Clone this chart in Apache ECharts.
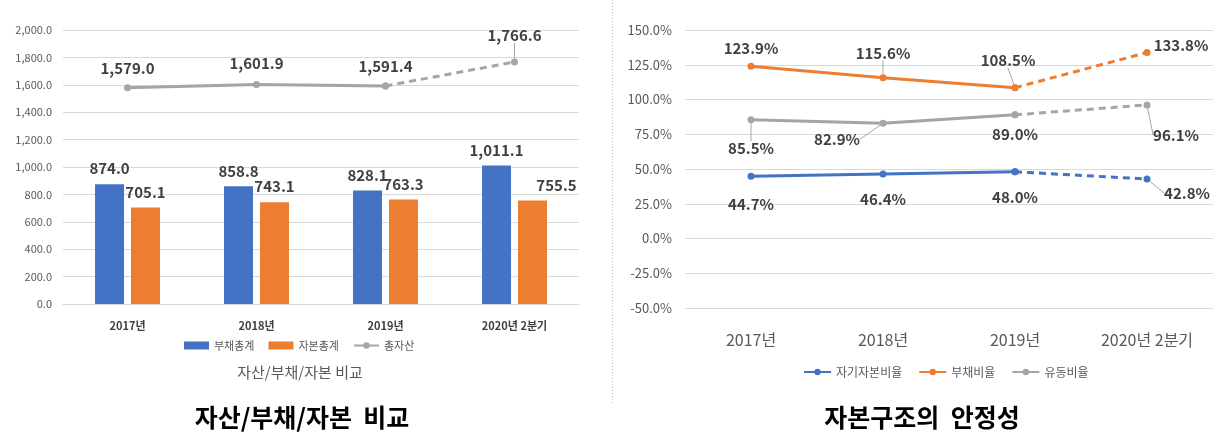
<!DOCTYPE html>
<html><head><meta charset="utf-8">
<script src="https://cdn.jsdelivr.net/npm/echarts@6/dist/echarts.min.js"></script>
<style>html,body{margin:0;padding:0;background:#fff}#c{width:1231px;height:439px}</style>
</head><body><div id="c"></div>
<script>
var categories = ['2017년', '2018년', '2019년', '2020년 2분기'];
var liabilities = [874.0, 858.8, 828.1, 1011.1];
var equity = [705.1, 743.1, 763.3, 755.5];
var totalAssets = [1579.0, 1601.9, 1591.4, 1766.6];
var equityRatio = [44.7, 46.4, 48.0, 42.8];
var debtRatio = [123.9, 115.6, 108.5, 133.8];
var currentRatio = [85.5, 82.9, 89.0, 96.1];
var leftNames = ['부채총계', '자본총계', '총자산'];
var rightNames = ['자기자본비율', '부채비율', '유동비율'];
var innerTitle = '자산/부채/자본 비교';
var mainTitles = ['자산/부채/자본  비교', '자본구조의  안정성'];

var FONT = '"Noto Sans CJK KR", "Noto Sans", sans-serif';
var BLUE = '#4472C4', ORANGE = '#ED7D31', GRAY = '#A5A5A5';
var LBL = '#404040';

function fmt(v) {
  return v.toLocaleString('en-US', {minimumFractionDigits: 1, maximumFractionDigits: 1});
}
function solidPart(arr) { return arr.map(function (v, i) { return i <= 2 ? v : null; }); }
function dashPart(arr) { return arr.map(function (v, i) { return i >= 2 ? v : null; }); }

var chart = echarts.init(document.getElementById('c'));

// offsets: [dx, dy, leader] label centre relative to the point
function makeLineSeries(name, arr, color, gridIdx, offsets, fmtFn) {
  var res = [];
  ['solid', 'dashed'].forEach(function (kind) {
    var d = kind === 'solid' ? solidPart(arr) : dashPart(arr);
    var data = d.map(function (v, i) {
      if (v === null) return null;
      var showLbl = kind === 'solid' ? (i <= 2) : (i === 3);
      var o = offsets[i];
      return {value: v, label: {show: showLbl, position: 'inside'},
        labelLine: {show: !!o[2] && showLbl}};
    });
    res.push({
      type: 'line', name: name,
      xAxisIndex: gridIdx, yAxisIndex: gridIdx,
      data: data,
      symbol: 'circle', symbolSize: 7,
      connectNulls: false,
      z: 5,
      itemStyle: {color: color},
      lineStyle: {color: color, width: 3, type: kind === 'solid' ? 'solid' : [7, 5]},
      label: {show: true, fontFamily: FONT, fontWeight: 'bold', fontSize: 15, color: LBL,
        formatter: function (p) { return fmtFn(p.value); }},
      labelLine: {show: true, lineStyle: {color: '#A6A6A6', width: 1}},
      labelLayout: function (p) {
        var o = offsets[p.dataIndex];
        return {dx: o[0], dy: o[1]};
      },
      emphasis: {disabled: true},
      animation: false
    });
  });
  return res;
}

var series = [];
series.push({
  type: 'bar', name: leftNames[0], xAxisIndex: 0, yAxisIndex: 0,
  data: liabilities, barWidth: 29, barGap: '24%',
  itemStyle: {color: BLUE},
  label: {show: true, position: 'top', distance: 8, fontFamily: FONT, fontWeight: 'bold', fontSize: 15, color: LBL,
    formatter: function (p) { return fmt(p.value); }},
  animation: false
});
series.push({
  type: 'bar', name: leftNames[1], xAxisIndex: 0, yAxisIndex: 0,
  data: equity.map(function (v, i) {
    return i === 3 ? {value: v, label: {offset: [24, 0]}} : v;
  }),
  barWidth: 29, barGap: '24%',
  itemStyle: {color: ORANGE},
  label: {show: true, position: 'top', distance: 8, fontFamily: FONT, fontWeight: 'bold', fontSize: 15, color: LBL,
    formatter: function (p) { return fmt(p.value); }},
  animation: false
});
series = series.concat(makeLineSeries(leftNames[2], totalAssets, GRAY, 0,
  [[0, -19], [0, -21], [0, -20], [0, -27, true]], fmt));

var pct = function (v) { return v.toFixed(1) + '%'; };
series = series.concat(makeLineSeries(rightNames[0], equityRatio, BLUE, 1,
  [[0, 28], [0, 25], [0, 26], [40, 14, true]], pct));
series = series.concat(makeLineSeries(rightNames[1], debtRatio, ORANGE, 1,
  [[0, -18], [0, -25, true], [-7, -27, true], [34, -7]], pct));
series = series.concat(makeLineSeries(rightNames[2], currentRatio, GRAY, 1,
  [[0, 29, true], [-46, 16, true], [0, 20], [29, 30, true]], pct));

var option = {
  animation: false,
  textStyle: {fontFamily: FONT},
  title: [
    {text: innerTitle, left: 300, top: 365, textAlign: 'center', padding: 0,
      textStyle: {fontFamily: FONT, fontSize: 15, fontWeight: 'normal', color: '#595959'}},
    {text: mainTitles[0], left: 302, top: 405, textAlign: 'center', padding: 0,
      textStyle: {fontFamily: FONT, fontSize: 25, fontWeight: 'bold', color: '#000'}},
    {text: mainTitles[1], left: 922, top: 405, textAlign: 'center', padding: 0,
      textStyle: {fontFamily: FONT, fontSize: 25, fontWeight: 'bold', color: '#000'}}
  ],
  legend: [
    {data: leftNames.map(function (n, i) { return i < 2 ? {name: n, icon: 'rect'} : {name: n}; }),
      left: 184, top: 340, itemWidth: 25, itemHeight: 8, itemGap: 14, padding: 0,
      textStyle: {fontFamily: FONT, fontSize: 11, color: '#595959'}},
    {data: rightNames, left: 803, top: 366, itemWidth: 27, itemHeight: 8, itemGap: 16, padding: 0,
      textStyle: {fontFamily: FONT, fontSize: 12, color: '#595959'}}
  ],
  grid: [
    {left: 63, right: 652, top: 30, bottom: 135},
    {left: 685, right: 18, top: 30, bottom: 131}
  ],
  xAxis: [
    {type: 'category', gridIndex: 0, data: categories,
      axisLine: {lineStyle: {color: '#D9D9D9'}}, axisTick: {show: false},
      axisLabel: {fontFamily: FONT, fontSize: 11, fontWeight: 'bold', color: '#404040', margin: 16}},
    {type: 'category', gridIndex: 1, data: categories,
      axisLine: {show: false}, axisTick: {show: false},
      axisLabel: {fontFamily: FONT, fontSize: 16, color: '#595959', margin: 24}}
  ],
  yAxis: [
    {type: 'value', gridIndex: 0, min: 0, max: 2000, interval: 200,
      axisLine: {show: false}, axisTick: {show: false},
      splitLine: {lineStyle: {color: '#D9D9D9'}},
      axisLabel: {fontFamily: FONT, fontSize: 11, color: '#595959', margin: 11, formatter: fmt}},
    {type: 'value', gridIndex: 1, min: -50, max: 150, interval: 25,
      axisLine: {show: false}, axisTick: {show: false},
      splitLine: {lineStyle: {color: '#D9D9D9'}},
      axisLabel: {fontFamily: FONT, fontSize: 13, color: '#595959', margin: 13,
        formatter: function (v) { return v.toFixed(1) + '%'; }}}
  ],
  graphic: [
    {type: 'line', shape: {x1: 612.5, y1: 0, x2: 612.5, y2: 403},
      style: {stroke: '#BFBFBF', lineWidth: 1, lineDash: [1, 2]}}
  ],
  series: series
};
chart.setOption(option);
</script>
</body></html>
